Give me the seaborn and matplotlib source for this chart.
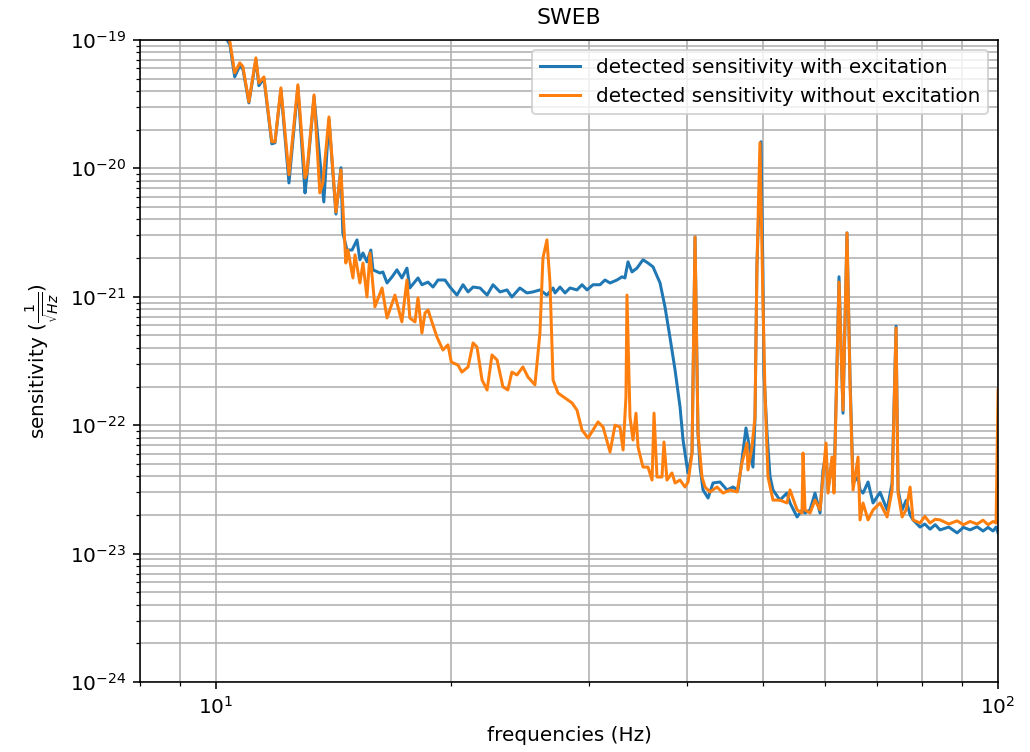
import matplotlib
matplotlib.use("Agg")
import matplotlib.pyplot as plt
import seaborn as sns
import numpy as np

# ---------------- data ----------------
freq_with = [10.20, 10.42, 10.57, 10.73, 10.83, 11.02, 11.25, 11.35, 11.52, 11.79,
             11.90, 12.11, 12.40, 12.73, 13.00, 13.07, 13.35, 13.74, 13.95, 14.24,
             14.45, 14.53, 14.71, 14.93, 15.15, 15.28, 15.42, 15.60, 15.78, 15.88,
             16.21, 16.35, 16.55, 16.80, 17.04, 17.29, 17.55, 17.70, 18.13, 18.34,
             18.67, 18.95, 19.23, 19.63, 19.92, 20.33, 20.70, 21.01, 21.32, 21.76,
             22.22, 22.61, 23.08, 23.56, 23.90, 24.47, 24.98, 25.43, 25.96, 26.50,
             26.98, 27.14, 27.54, 27.95, 28.36, 28.95, 29.38, 29.82, 30.35, 30.98,
             31.44, 31.91, 32.57, 33.06, 33.34, 33.64, 34.04, 34.54, 35.16, 35.68,
             36.21, 36.97, 37.51, 38.06, 38.64, 39.21, 39.56, 40.03, 40.15, 40.62,
             40.98, 41.34, 41.59, 41.96, 42.58, 43.21, 44.11, 45.02, 45.82, 46.50,
             47.05, 47.61, 48.17, 48.60, 48.89, 49.17, 49.76, 50.05, 50.20, 50.65,
             51.10, 51.55, 52.62, 53.71, 54.20, 55.34, 56.15, 56.65, 57.49, 58.34,
             59.21, 59.73, 60.26, 60.62, 61.33, 61.69, 62.24, 62.61, 63.35, 64.10,
             64.67, 65.25, 66.22, 66.61, 67.20, 68.20, 69.21, 70.66, 72.13, 73.20,
             74.06, 74.50, 75.39, 76.30, 77.18, 77.86, 79.48, 80.60, 81.86, 83.10,
             84.30, 86.50, 88.64, 90.30, 92.09, 94.00, 95.68, 97.10, 98.54, 99.42,
             100.0]
sens_with = [1.15e-19, 9.2e-20, 5.15e-20, 6.3e-20, 5.9e-20, 3.23e-20, 7.0e-20, 4.4e-20, 5.0e-20, 1.55e-20,
             1.58e-20, 4.1e-20, 7.69e-21, 4.3e-20, 6.43e-21, 8.6e-21, 3.6e-20, 5.47e-21, 2.4e-20, 4.4e-21,
             1.01e-20, 3.14e-21, 2.31e-21, 2.31e-21, 2.77e-21, 1.94e-21, 2.19e-21, 1.87e-21, 2.31e-21, 1.62e-21,
             1.53e-21, 1.56e-21, 1.28e-21, 1.43e-21, 1.62e-21, 1.40e-21, 1.67e-21, 1.17e-21, 1.40e-21, 1.24e-21,
             1.30e-21, 1.19e-21, 1.35e-21, 1.35e-21, 1.19e-21, 1.03e-21, 1.24e-21, 1.09e-21, 1.19e-21, 1.17e-21,
             1.03e-21, 1.24e-21, 1.09e-21, 1.13e-21, 9.95e-22, 1.17e-21, 1.07e-21, 1.09e-21, 1.13e-21, 1.03e-21,
             1.17e-21, 1.07e-21, 1.19e-21, 1.07e-21, 1.17e-21, 1.13e-21, 1.24e-21, 1.13e-21, 1.24e-21, 1.24e-21,
             1.35e-21, 1.28e-21, 1.35e-21, 1.43e-21, 1.40e-21, 1.87e-21, 1.56e-21, 1.67e-21, 1.94e-21, 1.83e-21,
             1.71e-21, 1.28e-21, 8.34e-22, 4.86e-22, 2.69e-22, 1.39e-22, 7.67e-23, 4.72e-23, 4.25e-23, 6.1e-23,
             2.92e-21, 8.69e-23, 4.72e-23, 3.13e-23, 2.71e-23, 3.55e-23, 3.61e-23, 3.13e-23, 3.30e-23, 3.13e-23,
             5.36e-23, 9.51e-23, 6.41e-23, 4.72e-23, 1.10e-22, 1.71e-21, 1.61e-20, 1.53e-21, 2.55e-22, 8.69e-23,
             4.0e-23, 3.13e-23, 2.61e-23, 2.96e-23, 2.48e-23, 1.93e-23, 2.19e-23, 2.07e-23, 2.19e-23, 2.96e-23,
             2.07e-23, 4.5e-23, 6.0e-23, 3.13e-23, 5.36e-23, 3.3e-23, 3.0e-22, 1.43e-21, 1.24e-22, 3.14e-21,
             2.4e-22, 3.55e-23, 3.95e-23, 3.13e-23, 2.96e-23, 3.61e-23, 2.48e-23, 3.0e-23, 2.19e-23, 3.55e-23,
             5.9e-22, 3.13e-23, 2.19e-23, 2.6e-23, 2.0e-23, 1.83e-23, 1.61e-23, 1.70e-23, 1.55e-23, 1.68e-23,
             1.53e-23, 1.61e-23, 1.45e-23, 1.60e-23, 1.53e-23, 1.62e-23, 1.50e-23, 1.60e-23, 1.50e-23, 1.61e-23,
             1.45e-23]

freq_without = [10.30, 10.42, 10.57, 10.73, 10.83, 11.02, 11.25, 11.35, 11.52, 11.79,
                11.90, 12.11, 12.40, 12.73, 13.00, 13.07, 13.35, 13.58, 13.70, 13.95,
                14.24, 14.45, 14.66, 14.75, 14.97, 15.06, 15.28, 15.42, 15.60, 15.74,
                15.97, 16.31, 16.55, 16.94, 17.29, 17.55, 17.70, 17.97, 18.13, 18.34,
                18.51, 18.67, 19.17, 19.51, 19.80, 20.00, 20.39, 20.63, 21.01, 21.32,
                21.57, 21.89, 22.22, 22.54, 22.88, 23.28, 23.62, 23.90, 24.26, 24.69,
                25.06, 25.58, 25.96, 26.19, 26.50, 26.74, 26.98, 27.38, 27.95, 28.53,
                28.95, 29.38, 29.91, 30.35, 30.80, 31.26, 31.91, 32.38, 32.86, 33.16,
                33.44, 33.54, 33.84, 34.14, 34.44, 34.65, 35.16, 35.68, 36.11, 36.32,
                36.64, 37.18, 37.40, 37.73, 38.29, 38.64, 39.21, 39.79, 40.15, 40.62,
                40.98, 41.34, 41.83, 42.20, 42.83, 43.72, 44.50, 45.42, 46.37, 47.05,
                47.75, 47.89, 48.46, 48.89, 49.17, 49.61, 50.05, 50.35, 50.80, 51.55,
                52.62, 53.71, 54.20, 55.34, 56.15, 56.32, 56.65, 57.49, 58.34, 59.21,
                59.73, 60.26, 60.62, 61.33, 61.69, 62.24, 62.61, 63.35, 64.10, 64.67,
                65.25, 66.22, 66.61, 67.20, 68.20, 69.21, 70.66, 72.13, 73.20, 74.06,
                74.50, 75.39, 76.30, 77.18, 77.86, 79.48, 80.60, 81.86, 83.10, 84.30,
                86.50, 88.64, 90.30, 92.09, 94.00, 95.68, 97.10, 98.54, 99.42, 100.0]
sens_without = [1.15e-19, 9.70e-20, 5.53e-20, 6.62e-20, 6.17e-20, 3.29e-20, 7.24e-20, 4.62e-20, 5.15e-20, 1.61e-20,
                1.61e-20, 4.23e-20, 8.89e-21, 4.47e-20, 8.41e-21, 9.20e-21, 3.73e-20, 6.43e-21, 7.69e-21, 2.51e-20,
                4.57e-21, 9.72e-21, 1.83e-21, 2.31e-21, 1.40e-21, 2.12e-21, 1.28e-21, 1.83e-21, 9.95e-22, 2.19e-21,
                8.34e-22, 1.17e-21, 6.84e-22, 1.03e-21, 6.37e-22, 1.35e-21, 6.84e-22, 6.37e-22, 9.79e-22, 5.22e-22,
                7.48e-22, 7.89e-22, 4.86e-22, 3.85e-22, 4.22e-22, 3.10e-22, 2.94e-22, 2.59e-22, 2.84e-22, 4.37e-22,
                4.06e-22, 2.25e-22, 1.88e-22, 3.52e-22, 3.22e-22, 1.99e-22, 1.88e-22, 2.59e-22, 2.46e-22, 2.84e-22,
                2.37e-22, 2.06e-22, 5.22e-22, 2.00e-21, 2.77e-21, 1.28e-21, 2.25e-22, 1.78e-22, 1.63e-22, 1.49e-22,
                1.31e-22, 9.18e-23, 7.94e-23, 9.18e-23, 1.06e-22, 9.68e-23, 6.18e-23, 1.00e-22, 9.68e-23, 6.41e-23,
                1.66e-22, 1.03e-21, 1.16e-22, 7.67e-23, 1.24e-22, 6.76e-23, 4.72e-23, 4.72e-23, 3.74e-23, 1.24e-22,
                3.95e-23, 3.95e-23, 7.40e-23, 3.74e-23, 4.25e-23, 3.55e-23, 3.74e-23, 3.30e-23, 3.61e-23, 6.07e-23,
                2.92e-21, 8.69e-23, 3.95e-23, 3.30e-23, 3.02e-23, 3.30e-23, 2.96e-23, 3.13e-23, 3.02e-23, 5.08e-23,
                7.26e-23, 4.48e-23, 6.76e-23, 1.16e-22, 1.71e-21, 1.58e-20, 9.44e-22, 1.78e-22, 3.95e-23, 2.61e-23,
                2.61e-23, 2.48e-23, 3.13e-23, 2.19e-23, 2.07e-23, 6.07e-23, 2.19e-23, 2.07e-23, 2.61e-23, 2.19e-23,
                3.95e-23, 7.26e-23, 2.96e-23, 5.65e-23, 2.96e-23, 2.84e-22, 1.30e-21, 1.31e-22, 3.14e-21, 2.13e-22,
                3.13e-23, 5.65e-23, 1.83e-23, 2.48e-23, 1.83e-23, 2.19e-23, 2.48e-23, 1.93e-23, 3.13e-23, 5.71e-22,
                2.96e-23, 1.93e-23, 2.2e-23, 3.30e-23, 1.83e-23, 1.73e-23, 1.95e-23, 1.73e-23, 1.85e-23, 1.83e-23,
                1.70e-23, 1.80e-23, 1.68e-23, 1.78e-23, 1.70e-23, 1.82e-23, 1.68e-23, 1.78e-23, 1.73e-23, 1.88e-22]

labels = ["detected sensitivity with excitation",
          "detected sensitivity without excitation"]
title = "SWEB"
xlabel = "frequencies (Hz)"
ylabel = r"sensitivity ($\frac{1}{\sqrt{Hz}}$)"

assert len(freq_with) == len(sens_with)
assert len(freq_without) == len(sens_without)

# ---------------- plot ----------------
DPI = 144
fig, ax = plt.subplots(figsize=(1030 / DPI, 752 / DPI), dpi=DPI)
fig.subplots_adjust(left=0.136, right=0.969, top=0.947, bottom=0.093)

ax.set_xscale("log")
ax.set_yscale("log")

sns.lineplot(x=np.array(freq_with), y=np.array(sens_with), ax=ax,
             color="C0", label=labels[0], sort=False, linewidth=1.5)
sns.lineplot(x=np.array(freq_without), y=np.array(sens_without), ax=ax,
             color="C1", label=labels[1], sort=False, linewidth=1.5)

ax.set_xlim(8, 100)
ax.set_ylim(1e-24, 1e-19)
ax.grid(True, which="both")
ax.set_axisbelow(True)

ax.set_title(title, fontsize=11, pad=8)
ax.set_xlabel(xlabel)
ax.set_ylabel(ylabel)
ax.legend(loc="upper right")

fig.savefig("out.png", dpi=DPI)
